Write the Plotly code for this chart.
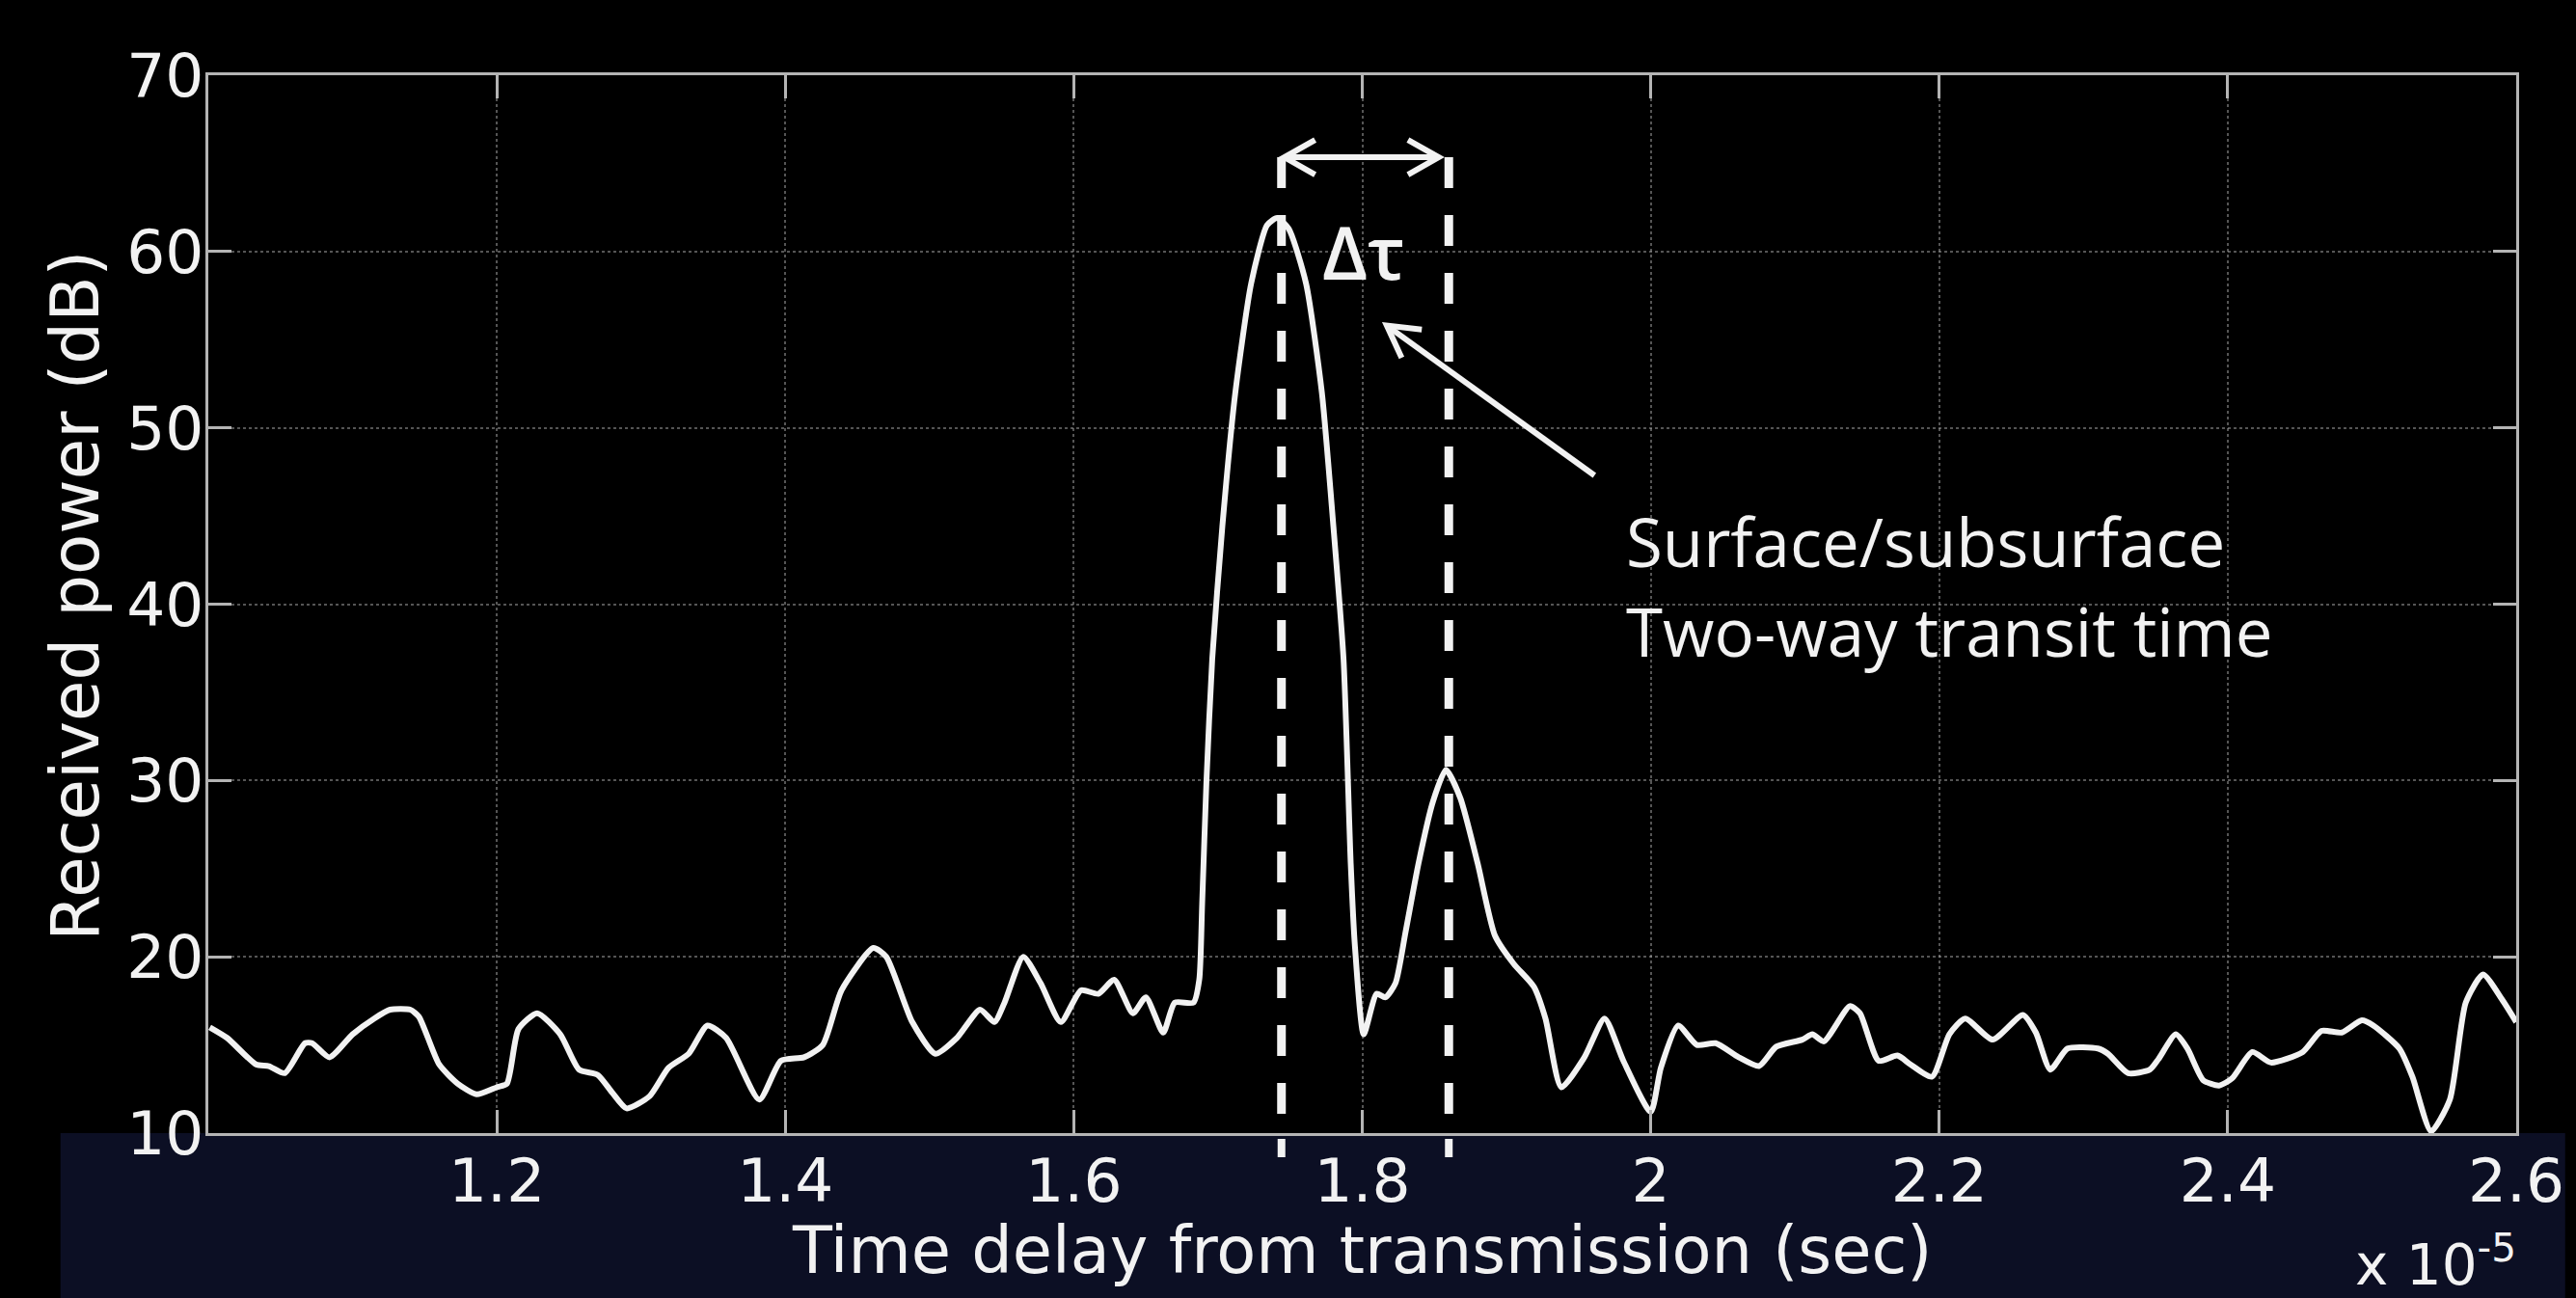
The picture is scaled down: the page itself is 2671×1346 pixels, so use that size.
import plotly.graph_objects as go
import math

# ---------------- data (time in units of 1e-5 s, power in dB) ----------------
time_delay = [
    1.001, 1.013, 1.033, 1.042, 1.053, 1.067, 1.072, 1.084, 1.100, 1.115,
    1.126, 1.140, 1.146, 1.160, 1.173, 1.186, 1.200, 1.207, 1.215, 1.228,
    1.244, 1.257, 1.270, 1.280, 1.290, 1.306, 1.319, 1.333, 1.346, 1.359,
    1.382, 1.397, 1.413, 1.426, 1.439, 1.461, 1.470, 1.488, 1.504, 1.519,
    1.535, 1.545, 1.552, 1.565, 1.577, 1.591, 1.605, 1.617, 1.628, 1.641,
    1.650, 1.662, 1.670, 1.683, 1.687, 1.689, 1.692, 1.696, 1.703, 1.712,
    1.723, 1.734, 1.741, 1.749, 1.761, 1.772, 1.780, 1.787, 1.792, 1.795,
    1.801, 1.810, 1.816, 1.823, 1.830, 1.839, 1.849, 1.858, 1.868, 1.880,
    1.892, 1.905, 1.919, 1.927, 1.938, 1.954, 1.968, 1.981, 2.000, 2.007,
    2.019, 2.032, 2.045, 2.061, 2.075, 2.087, 2.105, 2.112, 2.120, 2.138,
    2.145, 2.158, 2.171, 2.180, 2.195, 2.207, 2.218, 2.237, 2.258, 2.267,
    2.277, 2.289, 2.310, 2.317, 2.331, 2.346, 2.352, 2.364, 2.372, 2.383,
    2.394, 2.403, 2.417, 2.430, 2.452, 2.465, 2.479, 2.493, 2.501, 2.519,
    2.528, 2.541, 2.554, 2.565, 2.577, 2.590, 2.600,
]
received_power = [
    16.0, 15.4, 13.9, 13.8, 13.4, 15.1, 15.1, 14.3, 15.6, 16.5,
    17.0, 17.0, 16.6, 13.9, 12.8, 12.2, 12.6, 12.8, 15.9, 16.8,
    15.6, 13.6, 13.3, 12.3, 11.4, 12.1, 13.7, 14.5, 16.1, 15.4,
    11.9, 14.1, 14.3, 15.0, 18.1, 20.5, 20.0, 16.3, 14.5, 15.4,
    17.0, 16.3, 17.4, 20.0, 18.5, 16.3, 18.1, 17.9, 18.7, 16.8,
    17.7, 15.7, 17.4, 17.4, 18.7, 23.0, 30.0, 36.9, 44.4, 52.0,
    58.2, 61.5, 61.9, 61.3, 58.2, 52.0, 44.4, 36.9, 25.3, 20.5,
    15.6, 17.9, 17.7, 18.5, 21.4, 25.3, 28.8, 30.6, 29.0, 25.3,
    21.2, 19.6, 18.3, 16.5, 12.6, 14.3, 16.5, 14.1, 11.2, 13.7,
    16.1, 15.0, 15.1, 14.3, 13.8, 14.9, 15.3, 15.6, 15.2, 17.2,
    16.8, 14.1, 14.4, 13.9, 13.2, 15.6, 16.5, 15.3, 16.7, 15.7,
    13.6, 14.8, 14.8, 14.5, 13.4, 13.6, 14.2, 15.6, 14.8, 13.0,
    12.7, 13.1, 14.6, 14.0, 14.6, 15.8, 15.7, 16.4, 16.1, 14.8,
    13.2, 10.1, 11.9, 17.4, 19.0, 17.6, 16.3,
]
x_tick_values = [1.2, 1.4, 1.6, 1.8, 2.0, 2.2, 2.4, 2.6]
x_tick_labels = ["1.2", "1.4", "1.6", "1.8", "2", "2.2", "2.4", "2.6"]
y_tick_values = [10, 20, 30, 40, 50, 60, 70]
y_tick_labels = ["10", "20", "30", "40", "50", "60", "70"]

surface_peak_t = 1.744      # surface echo marker
subsurface_peak_t = 1.860   # subsurface echo marker

# ---------------- layout geometry ----------------
W, H = 2671, 1346
ML, MR, MT, MB = 216, 51, 78, 171
X_RANGE = [1.0, 2.6]
Y_RANGE = [10, 70]
PW, PH = W - ML - MR, H - MT - MB
SX = PW / (X_RANGE[1] - X_RANGE[0])   # px per x unit
SY = PH / (Y_RANGE[1] - Y_RANGE[0])   # px per dB
BOTTOM = H - MB                       # pixel row of the x axis


def paper_x(px):
    return (px - ML) / PW


def paper_y(py):
    return (BOTTOM - py) / PH


AXIS_FONT = "DejaVu Sans, Arial, sans-serif"
NOTE_FONT = "Open Sans, Lato, sans-serif"
WHITE = "#f2f2f2"
AXIS_COL = "#b4b4b4"

fig = go.Figure()
fig.add_trace(go.Scatter(
    x=time_delay, y=received_power, mode="lines",
    line=dict(color=WHITE, width=6, shape="spline", smoothing=0.6),
    hoverinfo="skip", showlegend=False,
))

shapes = []
# dark navy band below the plot (slide background)
shapes.append(dict(type="rect", xref="paper", yref="paper",
                   x0=paper_x(62), x1=paper_x(W), y0=paper_y(H), y1=0,
                   fillcolor="#0c0f24", line=dict(width=0), layer="below"))

arrow_y = 65.35
# dashed vertical markers
for t in (surface_peak_t, subsurface_peak_t):
    shapes.append(dict(type="line", xref="x", yref="y", x0=t, x1=t,
                       y0=arrow_y, y1=Y_RANGE[0],
                       line=dict(color=WHITE, width=9, dash="32px,28px")))
    # short dash poking below the axis line
    shapes.append(dict(type="line", xref="x", yref="paper", x0=t, x1=t,
                       y0=paper_y(1181), y1=paper_y(1200),
                       line=dict(color=WHITE, width=8)))


def chevron(tx, ty, ux, uy, length=32, half=18):
    n = math.hypot(ux, uy)
    ux, uy = ux / n, uy / n
    bx, by = -ux * length, -uy * length
    px, py = -uy * half, ux * half
    p1 = (tx + (bx + px) / SX, ty + (by + py) / SY)
    p2 = (tx + (bx - px) / SX, ty + (by - py) / SY)
    return dict(type="path", xref="x", yref="y",
                path=f"M {p1[0]},{p1[1]} L {tx},{ty} L {p2[0]},{p2[1]}",
                line=dict(color=WHITE, width=6))


# double-headed delta-tau arrow
left_tip, right_tip = surface_peak_t + 0.002, subsurface_peak_t - 0.007
shapes.append(dict(type="line", xref="x", yref="y", x0=left_tip, x1=right_tip,
                   y0=arrow_y, y1=arrow_y, line=dict(color=WHITE, width=6)))
shapes.append(chevron(left_tip, arrow_y, -1, 0))
shapes.append(chevron(right_tip, arrow_y, 1, 0))

# pointer arrow from label to delta-tau
tail = (1.961, 47.3)
tip = (1.817, 55.8)
shapes.append(dict(type="line", xref="x", yref="y", x0=tail[0], y0=tail[1],
                   x1=tip[0], y1=tip[1], line=dict(color=WHITE, width=6)))
shapes.append(chevron(tip[0], tip[1], (tip[0] - tail[0]) * SX, (tip[1] - tail[1]) * SY))

annotations = [
    dict(text="Δτ", x=1.8007, y=60.0, xref="x", yref="y", showarrow=False,
         xanchor="center", yanchor="middle",
         font=dict(family=NOTE_FONT, size=76, color=WHITE, weight=600)),
    dict(text="Surface/subsurface", x=1.9815, y=43.6, xref="x", yref="y",
         xanchor="left", yanchor="middle", showarrow=False,
         font=dict(family=NOTE_FONT, size=69, color=WHITE)),
    dict(text="Two-way transit time", x=1.9815, y=38.5, xref="x", yref="y",
         xanchor="left", yanchor="middle", showarrow=False,
         font=dict(family=NOTE_FONT, size=69, color=WHITE)),
    dict(text="Received power (dB)", textangle=-90, xref="paper", yref="paper",
         x=paper_x(77), y=paper_y(618), xanchor="center", yanchor="middle",
         showarrow=False,
         font=dict(family=AXIS_FONT, size=69, color=WHITE)),
    dict(text="Time delay from transmission (sec)", xref="paper", yref="paper",
         x=paper_x(1417), y=paper_y(1297), xanchor="center", yanchor="middle",
         showarrow=False,
         font=dict(family=AXIS_FONT, size=67, color=WHITE)),
    dict(text="x 10<sup>-5</sup>", xref="paper", yref="paper",
         x=paper_x(2622), y=paper_y(1308), xanchor="right", yanchor="middle",
         showarrow=False,
         font=dict(family=AXIS_FONT, size=58, color=WHITE)),
]

axis_common = dict(
    showline=True, linecolor=AXIS_COL, linewidth=3, mirror="ticks",
    ticks="inside", ticklen=24, tickwidth=3, tickcolor=AXIS_COL,
    showgrid=True, gridcolor="rgba(170,170,170,0.5)", gridwidth=2, griddash="dot",
    zeroline=False,
    tickfont=dict(family=AXIS_FONT, size=63, color=WHITE),
)

fig.update_layout(
    width=W, height=H,
    margin=dict(l=ML, r=MR, t=MT, b=MB),
    paper_bgcolor="#000000", plot_bgcolor="#000000",
    xaxis=dict(range=X_RANGE, tickvals=x_tick_values, ticktext=x_tick_labels,
               ticklabelstandoff=-8, **axis_common),
    yaxis=dict(range=Y_RANGE, tickvals=y_tick_values, ticktext=y_tick_labels,
               ticklabelstandoff=-11, **axis_common),
    shapes=shapes,
    annotations=annotations,
)

fig.write_html("out.html")
